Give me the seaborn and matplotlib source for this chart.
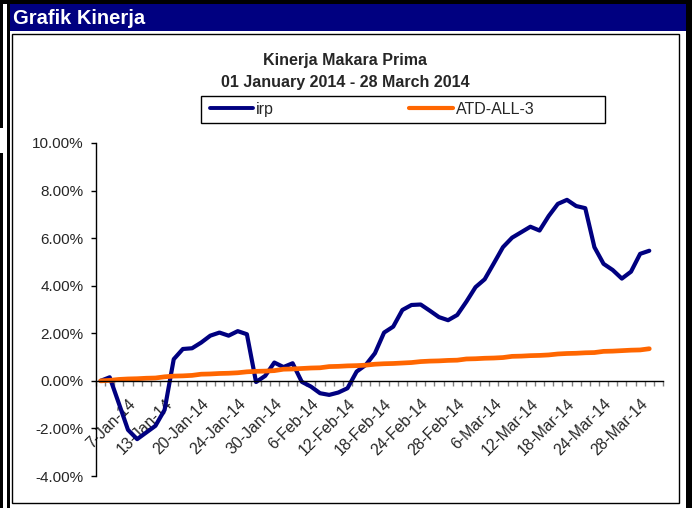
import numpy as np
import pandas as pd
import matplotlib.pyplot as plt
import seaborn as sns
from matplotlib.patches import Rectangle
from matplotlib.lines import Line2D

W, H = 692, 508

# trading days shown on the category axis
dates = ['2-Jan-14', '3-Jan-14', '6-Jan-14', '7-Jan-14', '8-Jan-14', '9-Jan-14', '10-Jan-14',
         '13-Jan-14', '15-Jan-14', '16-Jan-14', '17-Jan-14', '20-Jan-14', '21-Jan-14', '22-Jan-14',
         '23-Jan-14', '24-Jan-14', '27-Jan-14', '28-Jan-14', '29-Jan-14', '30-Jan-14', '3-Feb-14',
         '4-Feb-14', '5-Feb-14', '6-Feb-14', '7-Feb-14', '10-Feb-14', '11-Feb-14', '12-Feb-14',
         '13-Feb-14', '14-Feb-14', '17-Feb-14', '18-Feb-14', '19-Feb-14', '20-Feb-14', '21-Feb-14',
         '24-Feb-14', '25-Feb-14', '26-Feb-14', '27-Feb-14', '28-Feb-14', '3-Mar-14', '4-Mar-14',
         '5-Mar-14', '6-Mar-14', '7-Mar-14', '10-Mar-14', '11-Mar-14', '12-Mar-14', '13-Mar-14',
         '14-Mar-14', '17-Mar-14', '18-Mar-14', '19-Mar-14', '20-Mar-14', '21-Mar-14', '24-Mar-14',
         '25-Mar-14', '26-Mar-14', '27-Mar-14', '28-Mar-14', '31-Mar-14']

# kinerja (%)
irp = [0.00, 0.15, -0.95, -2.06, -2.45, -2.17, -1.89, -1.22, 0.91, 1.34, 1.37, 1.61, 1.90,
       2.03, 1.90, 2.09, 1.96, -0.05, 0.21, 0.77, 0.58, 0.74, -0.04, -0.24, -0.52, -0.59,
       -0.49, -0.31, 0.39, 0.67, 1.16, 2.03, 2.28, 2.98, 3.19, 3.21, 2.95, 2.68, 2.55, 2.77,
       3.33, 3.94, 4.27, 4.94, 5.62, 6.02, 6.25, 6.48, 6.32, 6.93, 7.44, 7.61, 7.35, 7.26,
       5.62, 4.92, 4.66, 4.30, 4.59, 5.34, 5.47]
atd = [0.00, 0.02, 0.06, 0.08, 0.09, 0.11, 0.12, 0.17, 0.20, 0.21, 0.23, 0.28, 0.29, 0.31,
       0.32, 0.34, 0.38, 0.40, 0.41, 0.43, 0.49, 0.50, 0.52, 0.54, 0.55, 0.60, 0.61, 0.63,
       0.64, 0.66, 0.70, 0.72, 0.73, 0.75, 0.77, 0.81, 0.83, 0.84, 0.86, 0.87, 0.92, 0.93,
       0.95, 0.96, 0.98, 1.03, 1.04, 1.06, 1.07, 1.09, 1.13, 1.15, 1.16, 1.18, 1.19, 1.24,
       1.25, 1.27, 1.29, 1.30, 1.35]

y_ticks = [-4, -2, 0, 2, 4, 6, 8, 10]
n_cat = 62

df = pd.DataFrame({'pos': np.arange(len(dates)), 'tanggal': dates, 'irp': irp, 'ATD-ALL-3': atd})

sns.set_style('white')
plt.rcParams['font.family'] = ['Liberation Sans', 'DejaVu Sans']

fig = plt.figure(figsize=(W / 100, H / 100), dpi=100)


def box(x0, y0, x1, y1, **kw):
    r = Rectangle((x0 / W, 1 - y1 / H), (x1 - x0) / W, (y1 - y0) / H,
                  transform=fig.transFigure, **kw)
    fig.add_artist(r)


# bingkai luar
box(0, 0, W, 4, color='black', lw=0)
box(0, 0, 3, 128, color='black', lw=0)
box(0, 153, 3, H, color='black', lw=0)
box(7, 0, 10, H, color='black', lw=0)
box(686, 0, W, H, color='black', lw=0)
box(10, 4, 686, 31, color='#000080', lw=0)
box(12, 34, 679, 503, facecolor='none', edgecolor='black', lw=1)
fig.text(13 / W, 1 - 18 / H, 'Grafik Kinerja', color='white', weight='bold',
         size=14.5, ha='left', va='center')

ax = fig.add_axes([96 / W, 1 - 476 / H, 567 / W, 333 / H])
sns.lineplot(data=df, x='pos', y='irp', ax=ax, color='#000080', lw=3.0, label='irp')
sns.lineplot(data=df, x='pos', y='ATD-ALL-3', ax=ax, color='#FF6600', lw=3.4, label='ATD-ALL-3')
ax.get_legend().remove()

ax.set_xlim(-0.5, n_cat - 0.5)
ax.set_ylim(-4, 10)
ax.set_xlabel('')
ax.set_ylabel('')
for s in ['top', 'right']:
    ax.spines[s].set_visible(False)
ax.spines['bottom'].set_position(('data', 0))
ax.spines['bottom'].set_color('black')
ax.spines['left'].set_color('black')
ax.spines['bottom'].set_linewidth(1)
ax.spines['left'].set_linewidth(1)

ax.set_yticks(y_ticks)
ax.set_yticklabels([f'{v:.2f}%' for v in y_ticks], fontsize=11)
ax.tick_params(axis='y', direction='out', length=3.6, width=1, color='black', pad=5.5, left=True)

ax.set_xticks(np.arange(-0.5, n_cat, 1))
ax.set_xticklabels([])
ax.tick_params(axis='x', which='major', direction='out', length=3.6, width=1, color='#808080', bottom=True)
lab_pos = list(range(3, len(dates), 4))
ax.set_xticks(lab_pos, minor=True)
ax.set_xticklabels([dates[i] for i in lab_pos], minor=True, rotation=45, ha='right',
                   rotation_mode='anchor', fontsize=11.3)
ax.tick_params(axis='x', which='minor', length=0, pad=11)

fig.text(345 / W, 1 - 60 / H, 'Kinerja Makara Prima', weight='bold', size=11.5,
         ha='center', va='center')
fig.text(345 / W, 1 - 82.5 / H, '01 January 2014 - 28 March 2014', weight='bold', size=11.5,
         ha='center', va='center')

box(201, 96, 605, 123, facecolor='white', edgecolor='black', lw=1)
handles = [Line2D([], [], color='#000080', lw=2.8), Line2D([], [], color='#FF6600', lw=3.0)]
fig.legend(handles, ['irp', 'ATD-ALL-3'], loc='center left', ncol=2, frameon=False,
           bbox_to_anchor=(209.5 / W, 1 - 109.5 / H), borderpad=0, borderaxespad=0,
           handlelength=2.75, handletextpad=0.15, columnspacing=8.5, fontsize=11.5)

fig.savefig('out.png', dpi=100)
